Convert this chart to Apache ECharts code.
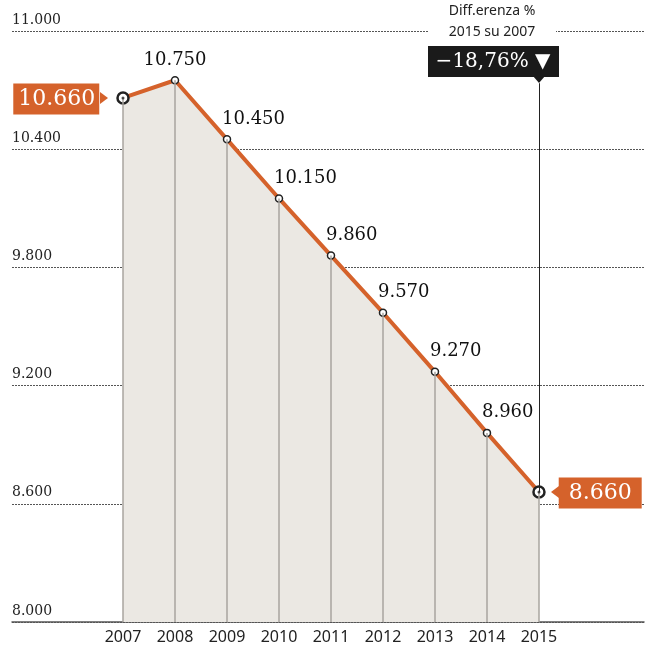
<!DOCTYPE html>
<html>
<head>
<meta charset="utf-8">
<script src="https://cdn.jsdelivr.net/npm/echarts@6/dist/echarts.min.js"></script>
<style>
  html, body { margin: 0; padding: 0; background: #fff; }
  #chart { width: 646px; height: 648px; }
</style>
</head>
<body>
<div id="chart"></div>
<script>
// dati
const anni = [2007, 2008, 2009, 2010, 2011, 2012, 2013, 2014, 2015];
const valori = [10660, 10750, 10450, 10150, 9860, 9570, 9270, 8960, 8660];
const yMin = 8000, yMax = 11000, yPasso = 600;

const arancio = '#d5622b';
const first = valori[0], last = valori[valori.length - 1];
const diff = ((last - first) / first * 100).toFixed(2).replace('.', ',').replace('-', '\u2212');

// separatore migliaia con il punto
const fmt = v => String(v).replace(/\B(?=(\d{3})+(?!\d))/g, '.');

const chart = echarts.init(document.getElementById('chart'));

const puntiLinea = valori.map((v, i) => {
    const item = { value: [anni[i], v] };
    if (i === 0 || i === valori.length - 1) {
        const sx = i === 0;
        item.symbolSize = 11;
        item.itemStyle = { borderColor: '#222', borderWidth: 2.5, color: '#fff' };
        item.label = {
            show: true,
            position: sx ? 'left' : 'right',
            distance: sx ? 17 : 13,
            align: sx ? 'right' : 'left',
            offset: [0, 1],
            formatter: p => fmt(p.value[1]),
            color: '#fff',
            fontFamily: 'DejaVu Serif',
            fontSize: 22,
            backgroundColor: arancio,
            padding: sx ? [5, 4, 4, 5] : [5, 10, 4, 10]
        };
    } else if (i === 1) {
        item.label = { align: 'center', offset: [0, -2] };
    }
    return item;
});

const option = {
    animation: false,
    grid: { left: 12, right: 2, top: 31, bottom: 26 },
    xAxis: {
        type: 'value',
        min: 2004.865,
        max: 2017.02,
        axisLine: { show: true, onZero: false, lineStyle: { color: '#555', width: 1.5 } },
        axisTick: { show: false },
        splitLine: { show: false },
        axisLabel: {
            customValues: anni,
            formatter: v => String(v),
            color: '#222',
            fontFamily: 'Noto Sans',
            fontSize: 16,
            margin: 7
        }
    },
    yAxis: {
        type: 'value',
        min: yMin,
        max: yMax,
        interval: yPasso,
        axisLine: { show: false },
        axisTick: { show: false },
        splitLine: { lineStyle: { color: '#555', type: [2, 1], width: 1 } },
        axisLabel: {
            inside: true,
            margin: 0,
            align: 'left',
            verticalAlign: 'bottom',
            padding: [0, 0, 4, 0],
            formatter: v => fmt(v),
            color: '#222',
            fontFamily: 'DejaVu Serif',
            fontSize: 14
        }
    },
    series: [
        {
            // area sotto la linea e linee verticali
            type: 'line',
            z: 1,
            data: anni.map((a, i) => [a, valori[i]]),
            symbol: 'none',
            lineStyle: { width: 0 },
            areaStyle: { color: '#ebe8e3', opacity: 1, origin: 'start' },
            silent: true,
            markLine: {
                silent: true,
                symbol: 'none',
                label: { show: false },
                lineStyle: { color: '#a9a59f', width: 1.5, type: 'solid' },
                data: anni.map((a, i) => [{ coord: [a, valori[i]] }, { coord: [a, yMin] }])
            }
        },
        {
            type: 'line',
            z: 3,
            data: puntiLinea,
            symbol: 'circle',
            symbolSize: 7,
            itemStyle: { color: '#fff', borderColor: '#222', borderWidth: 1.5 },
            lineStyle: { color: arancio, width: 4 },
            label: {
                show: true,
                position: 'top',
                align: 'left',
                offset: [-5, -2],
                distance: 5,
                formatter: p => fmt(p.value[1]),
                color: '#111',
                fontFamily: 'DejaVu Serif',
                fontSize: 18
            },
            markLine: {
                silent: true,
                symbol: 'none',
                label: { show: false },
                lineStyle: { color: '#222', width: 1, type: 'solid' },
                data: [[{ coord: [anni[anni.length - 1], last] }, { coord: [anni[anni.length - 1], 10735] }]]
            }
        },
        {
            // puntino centrale negli estremi
            type: 'scatter',
            z: 5,
            symbolSize: 3,
            itemStyle: { color: '#222' },
            data: [[anni[0], first], [anni[anni.length - 1], last]],
            markPoint: {
                symbol: 'triangle',
                symbolSize: [12, 8],
                itemStyle: { color: arancio },
                label: { show: false },
                data: [
                    { coord: [anni[0], first], symbolRotate: -90, symbolOffset: [-19, 0] },
                    { coord: [anni[anni.length - 1], last], symbolRotate: 90, symbolOffset: [16, 0] }
                ]
            }
        }
    ],
    graphic: [
        { type: 'rect', z: 100, shape: { x: 428, y: 0, width: 128, height: 44 }, style: { fill: '#fff' } },
        {
            type: 'text', z: 101, x: 492, y: 22,
            style: {
                text: 'Diff.erenza %\n2015 su 2007',
                fill: '#222', font: '14px "Noto Sans"', lineHeight: 21,
                textAlign: 'center', textVerticalAlign: 'middle'
            }
        },
        { type: 'rect', z: 100, shape: { x: 428, y: 46, width: 131, height: 31 }, style: { fill: '#1a1a1a' } },
        { type: 'polygon', z: 100, shape: { points: [[533, 76], [545, 76], [539, 83]] }, style: { fill: '#1a1a1a' } },
        {
            type: 'text', z: 101, x: 493, y: 62,
            style: {
                text: diff + '% \u25BC',
                fill: '#fff', font: '20px "DejaVu Serif"',
                textAlign: 'center', textVerticalAlign: 'middle'
            }
        }
    ]
};

chart.setOption(option);
</script>
</body>
</html>
